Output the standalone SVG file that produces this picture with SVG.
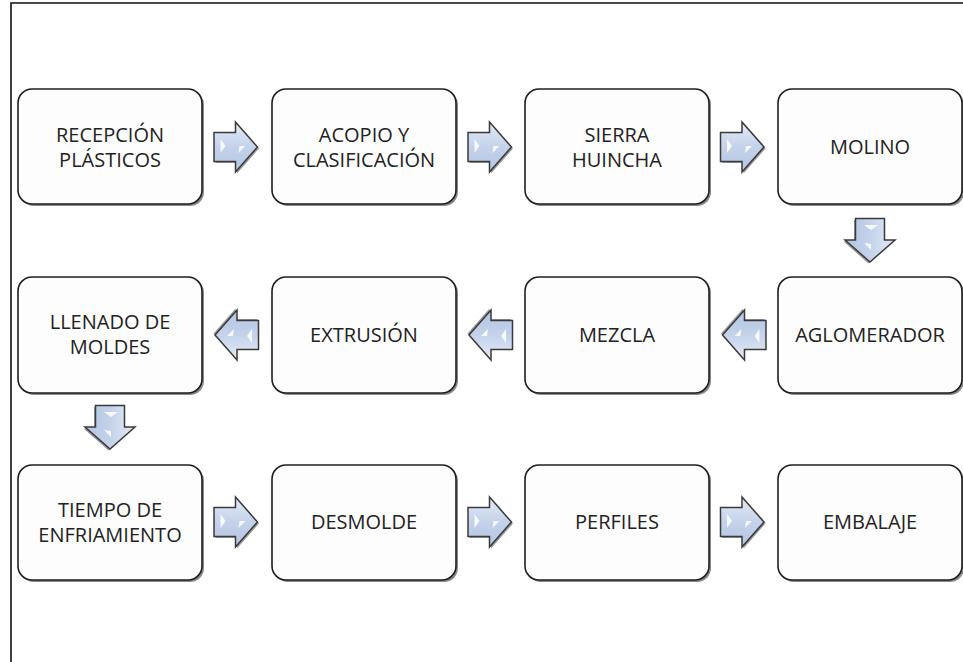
<svg xmlns="http://www.w3.org/2000/svg" xmlns:xlink="http://www.w3.org/1999/xlink" width="963" height="662" viewBox="0 0 963 662">
<defs>
<style>
.box{fill:#fdfdfd;stroke:#1e1e1e;stroke-width:1.6}
.sh{fill:#8a8a8a}
.t{font-family:"Open Sans","Liberation Sans",sans-serif;font-size:20px;fill:#222;text-anchor:middle}
.ar{fill:url(#g);stroke:#3a3a3a;stroke-width:1.5;stroke-linejoin:miter}
.as{fill:#9a9a9a}
.hl{fill:#ffffff;opacity:0.85}
</style>
<linearGradient id="g" x1="0" y1="0" x2="0" y2="1">
<stop offset="0" stop-color="#e4ebf6"/>
<stop offset="0.5" stop-color="#c4d2ea"/>
<stop offset="1" stop-color="#b4c5e2"/>
</linearGradient>
<g id="arr">
<path class="as" d="M-20,-13 H1.5 V-23.5 L23.5,1.5 L1.5,26.5 V16 H-20 Z"/>
<path class="ar" d="M-21.5,-14.5 H0 V-25 L22,0 L0,25 V14.5 H-21.5 Z"/>
<path class="hl" d="M-15,-8 L-10,-1 L-15,6 Z"/>
<path class="hl" d="M3,6 L10,-1 L4,-1 Z"/>
</g>
</defs>
<rect width="963" height="662" fill="#ffffff"/>
<path d="M11,662 V3 H963" fill="none" stroke="#111" stroke-width="1.6"/>

<g id="connectors">
<use xlink:href="#arr" transform="translate(235.5,147)"/>
<use xlink:href="#arr" transform="translate(489.5,147)"/>
<use xlink:href="#arr" transform="translate(742,147)"/>
<use xlink:href="#arr" transform="translate(870,240) rotate(90)"/>
<use xlink:href="#arr" transform="translate(744.5,335) rotate(180)"/>
<use xlink:href="#arr" transform="translate(491,335) rotate(180)"/>
<use xlink:href="#arr" transform="translate(237,335) rotate(180)"/>
<use xlink:href="#arr" transform="translate(110,427) rotate(90)"/>
<use xlink:href="#arr" transform="translate(235.5,522)"/>
<use xlink:href="#arr" transform="translate(489.5,522)"/>
<use xlink:href="#arr" transform="translate(742,522)"/>
</g>

<g id="n1"><rect class="sh" x="20" y="91" width="184" height="115" rx="14"/><rect class="box" x="18" y="89" width="184" height="115" rx="14"/>
<text class="t" x="110" y="142">RECEPCIÓN</text><text class="t" x="110" y="167">PLÁSTICOS</text></g>
<g id="n2"><rect class="sh" x="274" y="91" width="184" height="115" rx="14"/><rect class="box" x="272" y="89" width="184" height="115" rx="14"/>
<text class="t" x="364" y="142">ACOPIO Y</text><text class="t" x="364" y="167">CLASIFICACIÓN</text></g>
<g id="n3"><rect class="sh" x="527" y="91" width="184" height="115" rx="14"/><rect class="box" x="525" y="89" width="184" height="115" rx="14"/>
<text class="t" x="617" y="142">SIERRA</text><text class="t" x="617" y="167">HUINCHA</text></g>
<g id="n4"><rect class="sh" x="780" y="91" width="184" height="115" rx="14"/><rect class="box" x="778" y="89" width="184" height="115" rx="14"/>
<text class="t" x="870" y="154">MOLINO</text></g>

<g id="n5"><rect class="sh" x="20" y="279" width="184" height="116" rx="14"/><rect class="box" x="18" y="277" width="184" height="116" rx="14"/>
<text class="t" x="110" y="329">LLENADO DE</text><text class="t" x="110" y="354">MOLDES</text></g>
<g id="n6"><rect class="sh" x="274" y="279" width="184" height="116" rx="14"/><rect class="box" x="272" y="277" width="184" height="116" rx="14"/>
<text class="t" x="364" y="342">EXTRUSIÓN</text></g>
<g id="n7"><rect class="sh" x="527" y="279" width="184" height="116" rx="14"/><rect class="box" x="525" y="277" width="184" height="116" rx="14"/>
<text class="t" x="617" y="342">MEZCLA</text></g>
<g id="n8"><rect class="sh" x="780" y="279" width="184" height="116" rx="14"/><rect class="box" x="778" y="277" width="184" height="116" rx="14"/>
<text class="t" x="870" y="342">AGLOMERADOR</text></g>

<g id="n9"><rect class="sh" x="20" y="467" width="184" height="115" rx="14"/><rect class="box" x="18" y="465" width="184" height="115" rx="14"/>
<text class="t" x="110" y="517">TIEMPO DE</text><text class="t" x="110" y="542">ENFRIAMIENTO</text></g>
<g id="n10"><rect class="sh" x="274" y="467" width="184" height="115" rx="14"/><rect class="box" x="272" y="465" width="184" height="115" rx="14"/>
<text class="t" x="364" y="529">DESMOLDE</text></g>
<g id="n11"><rect class="sh" x="527" y="467" width="184" height="115" rx="14"/><rect class="box" x="525" y="465" width="184" height="115" rx="14"/>
<text class="t" x="617" y="529">PERFILES</text></g>
<g id="n12"><rect class="sh" x="780" y="467" width="184" height="115" rx="14"/><rect class="box" x="778" y="465" width="184" height="115" rx="14"/>
<text class="t" x="870" y="529">EMBALAJE</text></g>
</svg>
